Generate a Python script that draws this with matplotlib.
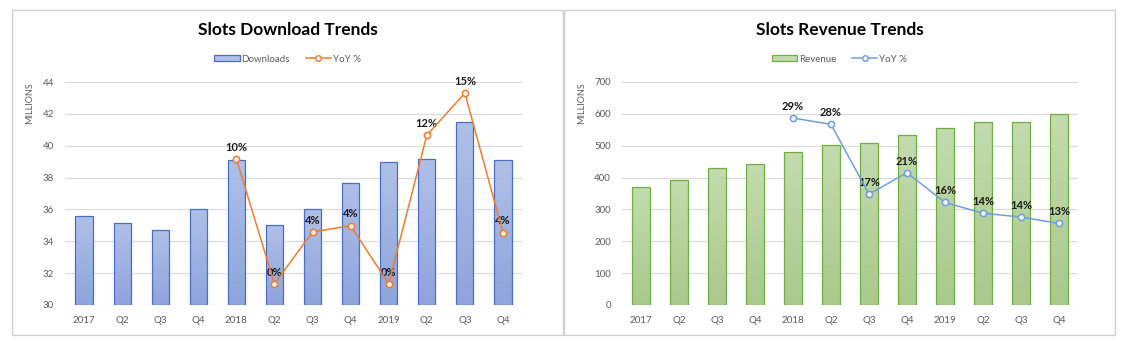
import matplotlib.pyplot as plt
import numpy as np
from matplotlib.patches import Rectangle
from matplotlib.lines import Line2D
from matplotlib.patches import Patch

plt.rcParams["font.family"] = ["Lato", "DejaVu Sans"]

quarters = ["2017", "Q2", "Q3", "Q4", "2018", "Q2", "Q3", "Q4",
            "2019", "Q2", "Q3", "Q4"]

downloads = [35.6, 35.15, 34.7, 36.05, 39.1, 35.05, 36.05, 37.65,
             39.0, 39.15, 41.5, 39.1]
downloads_yoy = [None, None, None, None, 9.8, -0.3, 3.9, 4.4,
                 -0.3, 11.7, 15.1, 3.85]

revenue = [370, 393, 430, 442, 480, 503, 507, 533, 557, 576, 576, 598]
revenue_yoy = [None, None, None, None, 29.35, 28.35, 17.4, 20.75,
               16.1, 14.4, 13.8, 12.8]

W, H = 1124, 351
fig = plt.figure(figsize=(W / 100, H / 100), dpi=100)
fig.patch.set_facecolor("white")

GRID = "#d9d9d9"
TICK = "#595959"


def px_rect(x0, y0, x1, y1):
    return [x0 / W, 1 - y1 / H, (x1 - x0) / W, (y1 - y0) / H]


def gradient_bars(ax, bars, top, bottom):
    grad = np.linspace(0, 1, 64).reshape(-1, 1)
    cmap = plt.matplotlib.colors.LinearSegmentedColormap.from_list("g", [top, bottom])
    for b in bars:
        x, y = b.get_x(), b.get_y()
        w, h = b.get_width(), b.get_height()
        im = ax.imshow(grad, cmap=cmap, aspect="auto", extent=[x, x + w, y, y + h],
                       origin="upper", zorder=b.get_zorder() - 0.1)
        im.set_clip_path(b)


def panel(box, axbox, title, values, yoy, ylim, yticks, yoy_lim,
          bar_top, bar_bot, bar_edge, line_col, bar_name):
    # panel frame
    fig.patches.append(Rectangle((box[0] / W, 1 - box[3] / H),
                                 (box[2] - box[0]) / W, (box[3] - box[1]) / H,
                                 transform=fig.transFigure, fill=False,
                                 edgecolor="#d0d0d0", linewidth=1.0))
    cx = (box[0] + box[2]) / 2 / W
    fig.text(cx, 1 - 30 / H, title, ha="center", va="center",
             fontsize=12.5, fontweight="bold", color="#000000")

    ax = fig.add_axes(px_rect(*axbox))
    x = np.arange(len(quarters))
    bars = ax.bar(x, [v - ylim[0] for v in values], bottom=ylim[0], width=0.45,
                  facecolor="none", edgecolor=bar_edge, linewidth=0.9, zorder=3)
    gradient_bars(ax, bars, bar_top, bar_bot)
    ax.set_xlim(-0.5, len(quarters) - 0.5)
    ax.set_ylim(*ylim)
    ax.set_yticks(yticks)
    ax.set_xticks(x)
    ax.set_xticklabels(quarters)
    ax.tick_params(length=0, labelsize=7, labelcolor=TICK, pad=8)
    ax.grid(axis="y", color=GRID, linewidth=0.8, zorder=0)
    ax.set_axisbelow(True)
    for s in ax.spines.values():
        s.set_visible(False)
    ax.set_ylabel("MILLIONS", fontsize=6.5, color=TICK, loc="top", labelpad=6)

    ax2 = ax.twinx()
    ax2.set_ylim(*yoy_lim)
    ax2.axis("off")
    idx = [i for i, v in enumerate(yoy) if v is not None]
    vals = [yoy[i] for i in idx]
    ax2.plot(idx, vals, color=line_col, linewidth=1.1, marker="o", markersize=4.5,
             markerfacecolor="#f3f3f3", markeredgecolor=line_col,
             markeredgewidth=1.1, zorder=5)
    for i, v in zip(idx, vals):
        ax2.annotate(f"{round(v)}%", (i, v), xytext=(0, 4.5),
                     textcoords="offset points", ha="center", va="bottom",
                     fontsize=8, fontweight="bold", color="#1a1a1a")

    handles = [Patch(facecolor=bar_top, edgecolor=bar_edge, linewidth=0.9),
               Line2D([], [], color=line_col, linewidth=1.1, marker="o",
                      markersize=4, markerfacecolor="#f3f3f3",
                      markeredgecolor=line_col)]
    leg = fig.legend(handles, [bar_name, "YoY %"], loc="center",
                     bbox_to_anchor=(cx, 1 - 59 / H), ncol=2, frameon=False,
                     fontsize=7, handlelength=2.6, handleheight=0.5,
                     handletextpad=0.2, columnspacing=1.6)
    for t in leg.get_texts():
        t.set_color(TICK)
    return ax


panel((12, 10, 563, 335), (65, 82, 522, 305), "Slots Download Trends",
      downloads, downloads_yoy, (30, 44), range(30, 45, 2), (-2, 16),
      "#afc0e8", "#8ea4db", "#4a6fc0", "#ed7d31", "Downloads")

panel((564, 10, 1115, 335), (622, 82, 1078, 305), "Slots Revenue Trends",
      revenue, revenue_yoy, (0, 700), range(0, 701, 100), (0, 35),
      "#c3dbad", "#a9c98c", "#70ad47", "#6f9fd8", "Revenue")

fig.savefig("out.png", dpi=100, facecolor="white")
